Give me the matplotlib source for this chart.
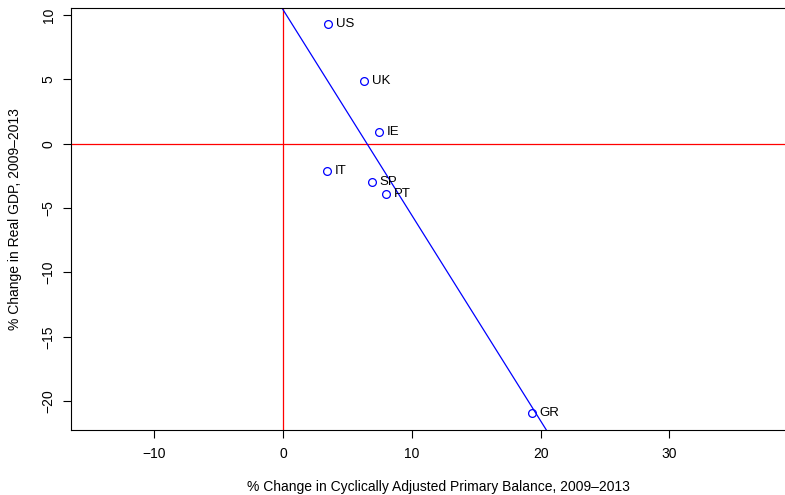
import numpy as np
import matplotlib
matplotlib.use('Agg')
import matplotlib.pyplot as plt

plt.rcParams['font.family'] = ['Liberation Sans', 'DejaVu Sans']

# data
countries = ['US', 'UK', 'IE', 'IT', 'SP', 'PT', 'GR']
primary_balance = [3.49, 6.29, 7.45, 3.42, 6.9, 8.0, 19.3]
real_gdp = [9.33, 4.9, 0.93, -2.1, -2.95, -3.9, -20.9]

x = np.array(primary_balance)
y = np.array(real_gdp)
slope, intercept = np.polyfit(x, y, 1)

W, H = 785, 495
fig = plt.figure(figsize=(W / 100, H / 100), dpi=100)
# plot region runs a little past the right edge of the image
left, right, top, bottom = 71, 805, 8, 430
ax = fig.add_axes([left / W, (H - bottom) / H, (right - left) / W, (bottom - top) / H])

ax.set_xlim(-16.46, 40.53)
ax.set_ylim(-22.24, 10.54)

ax.axhline(0, color='red', lw=0.9, zorder=1)
ax.axvline(0, color='red', lw=0.9, zorder=1)

xx = np.array(ax.get_xlim())
ax.plot(xx, intercept + slope * xx, color='blue', lw=0.9, zorder=2)

ax.plot(x, y, 'o', mfc='none', mec='blue', ms=5.6, mew=0.9, zorder=3)
for name, xi, yi in zip(countries, x, y):
    ax.annotate(name, (xi, yi), xytext=(5.5, 0), textcoords='offset points',
                ha='left', va='center', fontsize=9.5)

ax.set_xticks([-10, 0, 10, 20, 30])
ax.set_xticklabels(['\u221210', '0', '10', '20', '30'])
ax.set_yticks([-20, -15, -10, -5, 0, 5, 10])
ax.set_yticklabels(['\u221220', '\u221215', '\u221210', '\u22125', '0', '5', '10'],
                   rotation=90, va='center')
ax.tick_params(direction='out', length=6, width=0.8, labelsize=10)
ax.tick_params(axis='x', pad=6)
ax.tick_params(axis='y', pad=5)

for side in ['left', 'top', 'bottom']:
    ax.spines[side].set_linewidth(0.8)
ax.spines['right'].set_visible(False)

ax.set_xlabel('% Change in Cyclically Adjusted Primary Balance, 2009\u20132013', fontsize=10)
ax.set_ylabel('% Change in Real GDP, 2009\u20132013', fontsize=10)
ax.xaxis.set_label_coords(0.5, -(487 - bottom) / (bottom - top), transform=ax.transAxes)
ax.yaxis.set_label_coords(-(left - 15) / (right - left), 0.5, transform=ax.transAxes)
ax.xaxis.label.set_va('center')
ax.yaxis.label.set_va('center')

fig.savefig('out.png', dpi=100)
